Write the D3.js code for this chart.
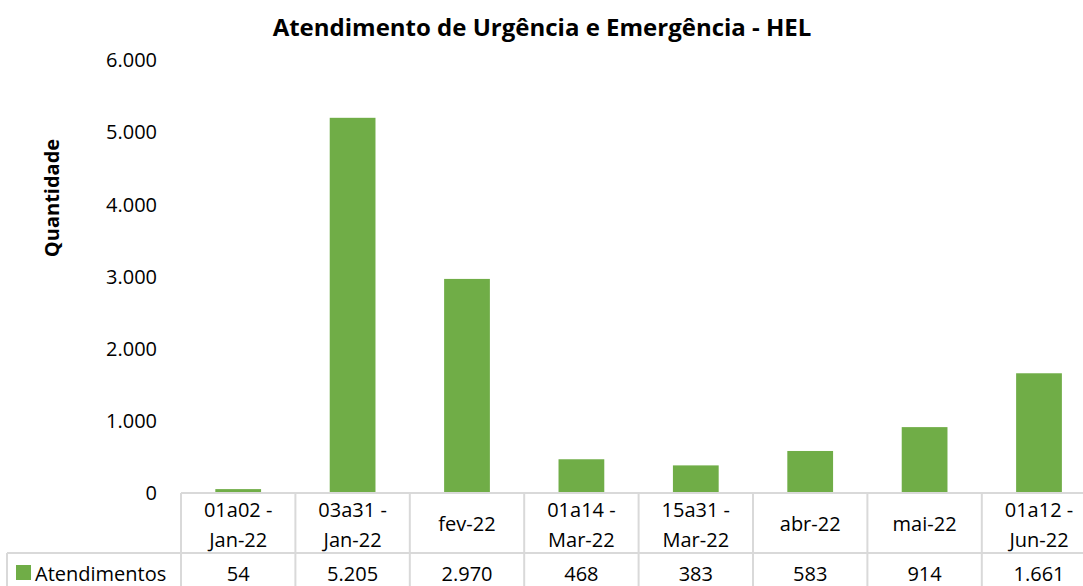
<!DOCTYPE html>
<meta charset="utf-8">
<title>Atendimento de Urgência e Emergência - HEL</title>
<style>
  body { margin: 0; background: #fff; overflow: hidden; }
  svg text { font-family: "Open Sans", "Noto Sans", sans-serif; fill: #000; }
</style>
<body>
<svg id="chart"></svg>
<script src="https://cdn.jsdelivr.net/npm/d3@7"></script>
<script>
  // data
  var categories = ["01a02 -|Jan-22", "03a31 -|Jan-22", "fev-22", "01a14 -|Mar-22",
                    "15a31 -|Mar-22", "abr-22", "mai-22", "01a12 -|Jun-22"];
  var atendimentos = [54, 5205, 2970, 468, 383, 583, 914, 1661];
  var yTicks = [0, 1000, 2000, 3000, 4000, 5000, 6000];
  var seriesName = "Atendimentos";

  var width = 1083, height = 586;
  var green = "#70ad47", gridGray = "#d9d9d9";

  // layout (plot runs a bit past the right edge, like the original)
  var plotLeft = 181, colW = 114.4, plotTop = 60.5, zeroY = 493;
  var rowY = 553, bottomY = 600, legendX = 7;

  var svg = d3.select("#chart").attr("width", width).attr("height", height);

  var ptBR = d3.formatLocale({decimal: ",", thousands: ".", grouping: [3], currency: ["R$", ""]});
  var fmt = ptBR.format(",d");

  var x = d3.scaleBand()
      .domain(categories)
      .range([plotLeft, plotLeft + colW * categories.length])
      .paddingInner(0.6)
      .paddingOuter(0.3);

  var y = d3.scaleLinear().domain([0, 6000]).range([zeroY, plotTop]);

  // title
  svg.append("text")
      .attr("x", 542).attr("y", 36)
      .attr("text-anchor", "middle")
      .style("font-size", "24px").style("font-weight", "bold")
      .text("Atendimento de Urgência e Emergência - HEL");

  // y axis title
  svg.append("text")
      .attr("transform", "translate(59,198) rotate(-90)")
      .attr("text-anchor", "middle")
      .style("font-size", "20px").style("font-weight", "bold")
      .text("Quantidade");

  // y axis
  var yAxis = svg.append("g")
      .attr("transform", "translate(" + plotLeft + ",0)")
      .call(d3.axisLeft(y).tickValues(yTicks).tickSize(0).tickPadding(24).tickFormat(fmt));
  yAxis.select(".domain").remove();
  yAxis.selectAll("text").style("font-size", "20px").attr("dy", "0.32em");

  // bars
  svg.selectAll("rect.bar")
    .data(atendimentos)
    .enter().append("rect")
      .attr("class", "bar")
      .attr("x", function(d, i) { return x(categories[i]); })
      .attr("y", function(d) { return y(d); })
      .attr("width", x.bandwidth())
      .attr("height", function(d) { return zeroY - y(d); })
      .attr("fill", green);

  // data table lines
  var plotRight = plotLeft + colW * categories.length;
  var grid = svg.append("g").attr("stroke", gridGray).attr("stroke-width", 2);
  grid.append("line").attr("x1", plotLeft).attr("x2", plotRight).attr("y1", zeroY).attr("y2", zeroY);
  grid.append("line").attr("x1", legendX).attr("x2", plotRight).attr("y1", rowY).attr("y2", rowY);
  grid.append("line").attr("x1", legendX).attr("x2", legendX).attr("y1", rowY).attr("y2", bottomY);
  d3.range(categories.length + 1).forEach(function(i) {
    grid.append("line")
      .attr("x1", plotLeft + i * colW).attr("x2", plotLeft + i * colW)
      .attr("y1", zeroY).attr("y2", bottomY);
  });

  // category labels
  var catText = svg.selectAll("text.cat")
    .data(categories)
    .enter().append("text")
      .attr("class", "cat")
      .attr("text-anchor", "middle")
      .style("font-size", "20px")
      .attr("x", function(d) { return x(d) + x.bandwidth() / 2; });
  catText.each(function(d) {
    var lines = d.split("|");
    var t = d3.select(this);
    var y0 = lines.length === 1 ? 531 : 517;
    lines.forEach(function(l, k) {
      t.append("tspan")
        .attr("x", x(d) + x.bandwidth() / 2)
        .attr("y", y0 + k * 30)
        .text(l);
    });
  });

  // values row
  svg.selectAll("text.val")
    .data(atendimentos)
    .enter().append("text")
      .attr("class", "val")
      .attr("text-anchor", "middle")
      .style("font-size", "20px")
      .attr("x", function(d, i) { return x(categories[i]) + x.bandwidth() / 2; })
      .attr("y", 581)
      .text(function(d) { return fmt(d); });

  // legend key
  svg.append("rect")
      .attr("x", 16).attr("y", 565).attr("width", 15).attr("height", 15)
      .attr("fill", green);
  svg.append("text")
      .attr("x", 35).attr("y", 581)
      .style("font-size", "20px")
      .text(seriesName);
</script>
</body>
